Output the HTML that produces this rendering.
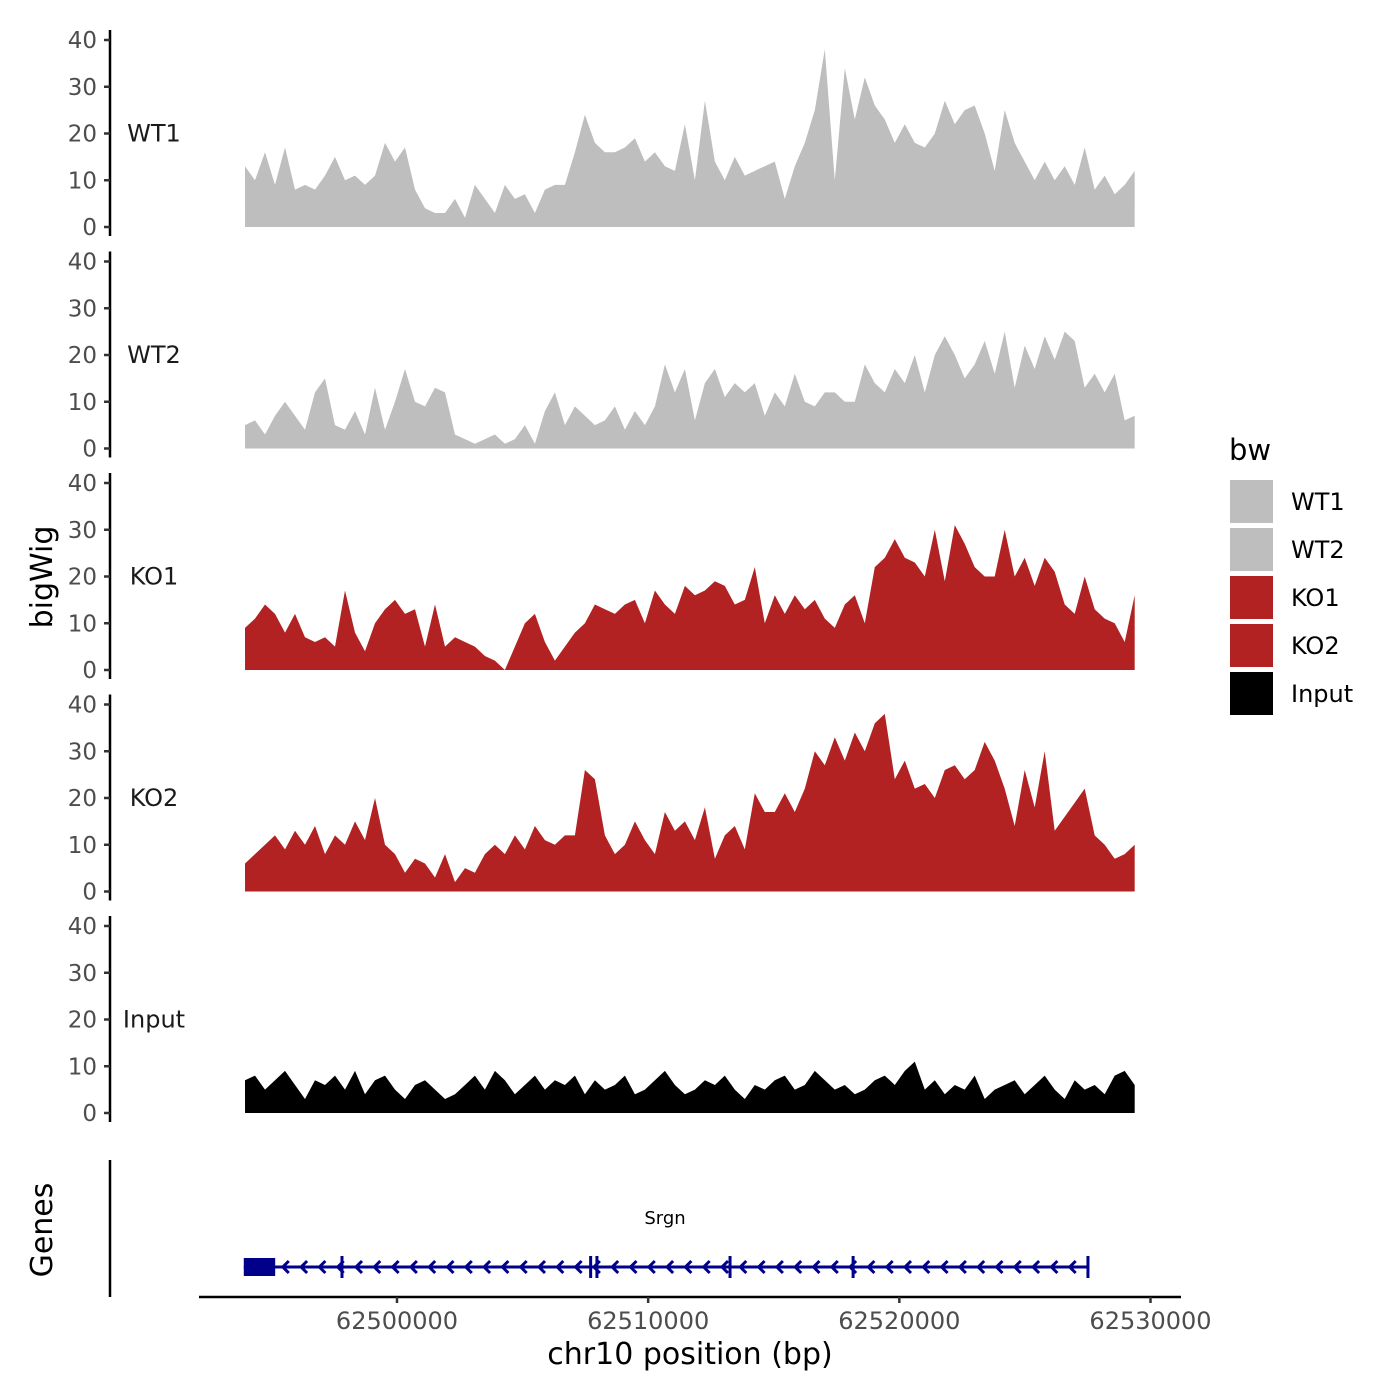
<!DOCTYPE html>
<html><head><meta charset="utf-8"><style>
html,body{margin:0;padding:0;background:#fff;}
svg{display:block;font-family:"DejaVu Sans","Liberation Sans",sans-serif;}
</style></head><body>
<svg id="chart" width="1400" height="1400" viewBox="0 0 1400 1400">
<g id="panels"></g>
<g id="genes"></g>
<g id="xaxis"></g>
<text x="42" y="577" font-size="30" text-anchor="middle" transform="rotate(-90 42 577)" dy="10">bigWig</text>
<text x="42" y="1230" font-size="30" text-anchor="middle" transform="rotate(-90 42 1230)" dy="10">Genes</text>
<text x="690" y="1364" font-size="30" text-anchor="middle">chr10 position (bp)</text>
<g id="legend"></g>
</svg>
<script>
const NS="http://www.w3.org/2000/svg";
const trackNames=["WT1","WT2","KO1","KO2","Input"];
const trackColors=["#bebebe","#bebebe","#b22222","#b22222","#000000"];
const yTicks=[0,10,20,30,40];
const xTicks=[62500000,62510000,62520000,62530000];
const regionStart=62493950, regionEnd=62529370;
const wt1=[13,10,16,9,17,8,9,8,11,15,10,11,9,11,18,14,17,8,4,3,3,6,2,9,6,3,9,6,7,3,8,9,9,16,24,18,16,16,17,19,14,16,13,12,22,10,27,14,10,15,11,12,13,14,6,13,18,25,38,10,34,23,32,26,23,18,22,18,17,20,27,22,25,26,20,12,25,18,14,10,14,10,13,9,17,8,11,7,9,12];
const wt2=[5,6,3,7,10,7,4,12,15,5,4,8,3,13,4,10,17,10,9,13,12,3,2,1,2,3,1,2,5,1,8,12,5,9,7,5,6,9,4,8,5,9,18,12,17,6,14,17,11,14,12,14,7,12,9,16,10,9,12,12,10,10,18,14,12,17,14,20,12,20,24,20,15,18,23,16,25,13,22,17,24,19,25,23,13,16,12,16,6,7];
const ko1=[9,11,14,12,8,12,7,6,7,5,17,8,4,10,13,15,12,13,5,14,5,7,6,5,3,2,0,5,10,12,6,2,5,8,10,14,13,12,14,15,10,17,14,12,18,16,17,19,18,14,15,22,10,16,12,16,13,15,11,9,14,16,10,22,24,28,24,23,20,30,19,31,27,22,20,20,30,20,24,18,24,21,14,12,20,13,11,10,6,16];
const ko2=[6,8,10,12,9,13,10,14,8,12,10,15,11,20,10,8,4,7,6,3,8,2,5,4,8,10,8,12,9,14,11,10,12,12,26,24,12,8,10,15,11,8,17,13,15,11,18,7,12,14,9,21,17,17,21,17,22,30,27,33,28,34,30,36,38,24,28,22,23,20,26,27,24,26,32,28,22,14,26,18,30,13,16,19,22,12,10,7,8,10];
const inputSig=[7,8,5,7,9,6,3,7,6,8,5,9,4,7,8,5,3,6,7,5,3,4,6,8,5,9,7,4,6,8,5,7,6,8,4,7,5,6,8,4,5,7,9,6,4,5,7,6,8,5,3,6,5,7,8,5,6,9,7,5,6,4,5,7,8,6,9,11,5,7,4,6,5,8,3,5,6,7,4,6,8,5,3,7,5,6,4,8,9,6];
const trackData=[wt1,wt2,ko1,ko2,inputSig];
const geneName="Srgn", geneStart=62493900, geneEnd=62527550;
const exons=[[62493900,62495150],[62497750,62497850],[62507650,62507750],[62507900,62508000],[62513200,62513300],[62518100,62518200],[62527450,62527550]];

function xScale(bp){return 397+(bp-62500000)*(1150.5-397)/30000;}
const pxPerUnit=187/40;
function el(tag,attrs,parent){const e=document.createElementNS(NS,tag);for(const k in attrs)e.setAttribute(k,attrs[k]);parent.appendChild(e);return e;}

const panels=document.getElementById("panels");
trackNames.forEach((name,p)=>{
  const base=227+p*221.5;
  const yS=v=>base-v*pxPerUnit;
  const g=el("g",{},panels);
  
  
  const ax=el("line",{x1:110,x2:110,y1:base-197,y2:base+9,stroke:"#000","stroke-width":2.5},g);
  
  
  yTicks.forEach(t=>{
    const tk=el("line",{x1:104,x2:110,y1:yS(t),y2:yS(t),stroke:"#333","stroke-width":2.5},g);
    
    
    const tl=el("text",{x:97,y:yS(t)+8,"font-size":23,"text-anchor":"end",fill:"#4d4d4d"},g);
    tl.textContent=t;
    
    
  });
  const lab=el("text",{x:154,y:yS(20)+8,"font-size":24,"text-anchor":"middle",fill:"#1a1a1a"},g);
  lab.textContent=name;
  
  
  const d=trackData[p], n=d.length;
  let path="M"+xScale(regionStart)+","+base;
  d.forEach((v,i)=>{const bp=regionStart+(regionEnd-regionStart)*i/(n-1);path+=" L"+xScale(bp).toFixed(1)+","+yS(v).toFixed(1);});
  path+=" L"+xScale(regionEnd)+","+base+" Z";
  const area=el("path",{d:path,fill:trackColors[p]},g);
  
  
});

const genes=document.getElementById("genes");
const gl=el("line",{x1:110,x2:110,y1:1160,y2:1297,stroke:"#000","stroke-width":2.5},genes);


const gy=1267;
const gline=el("line",{x1:xScale(geneStart),x2:xScale(geneEnd),y1:gy,y2:gy,stroke:"#00008b","stroke-width":3},genes);


for(let x=xScale(geneStart)+40;x<xScale(geneEnd)-4;x+=18.3){
  const c=el("path",{d:`M${x+5},${gy-6} L${x-1},${gy} L${x+5},${gy+6}`,fill:"none",stroke:"#00008b","stroke-width":3},genes);
  
  
}
exons.forEach((e,i)=>{
  const x1=xScale(e[0]),x2=xScale(e[1]);
  const h=i===0?18:22;
  const r=el("rect",{x:x1,y:gy-h/2,width:Math.max(3,x2-x1),height:h,fill:"#00008b"},genes);
  
  
});
const gn=el("text",{x:665,y:1224,"font-size":18,"text-anchor":"middle",fill:"#000"},genes);
gn.textContent=geneName;



const xa=document.getElementById("xaxis");
const xl=el("line",{x1:199,x2:1181,y1:1297,y2:1297,stroke:"#000","stroke-width":2.5},xa);


xTicks.forEach(t=>{
  const x=xScale(t);
  const tk=el("line",{x1:x,x2:x,y1:1297,y2:1303,stroke:"#333","stroke-width":2.5},xa);
  
  
  const tl=el("text",{x:x,y:1329,"font-size":24,"text-anchor":"middle",fill:"#4d4d4d"},xa);
  tl.textContent=t;
  
  
});

const lg=document.getElementById("legend");
const lt=el("text",{x:1229,y:460,"font-size":29,fill:"#000"},lg);
lt.textContent="bw";


trackNames.forEach((name,i)=>{
  const y=480+i*48;
  const r=el("rect",{x:1230,y:y,width:43,height:43,fill:trackColors[i]},lg);
  
  
  const t=el("text",{x:1291,y:y+30,"font-size":24,fill:"#000"},lg);
  t.textContent=name;
  
  
});
</script>
</body></html>
